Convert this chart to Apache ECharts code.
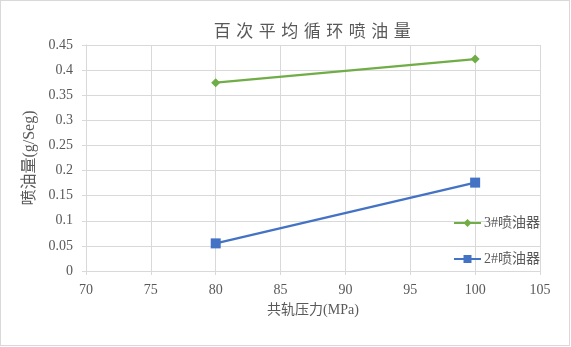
<!DOCTYPE html>
<html>
<head>
<meta charset="utf-8">
<script src="https://cdn.jsdelivr.net/npm/echarts@6/dist/echarts.min.js"></script>
<style>
html,body{margin:0;padding:0;background:#fff;}
#c{position:absolute;left:0;top:0;width:568px;height:344px;border:1px solid #d9d9d9;}
</style>
</head>
<body>
<div id="c"></div>
<script>
const titleText = '百次平均循环喷油量';
const xName = '共轨压力(MPa)';
const yName = '喷油量(g/Seg)';
const seriesNames = ['3#喷油器', '2#喷油器'];
const pressure = [80, 100];
const injector3 = [0.375, 0.422];
const injector2 = [0.055, 0.176];

const FONT = "'Liberation Serif', 'Noto Sans CJK SC', serif";
const chart = echarts.init(document.getElementById('c'));
chart.setOption({
  animation: false,
  title: {
    text: Array.from(titleText).map(ch => '{c|' + ch + '}').join(''),
    left: 205, top: 16,
    textStyle: {
      fontFamily: "'Noto Sans CJK SC', sans-serif", fontSize: 17, fontWeight: 'normal', color: '#595959',
      rich: {c: {width: 22.5, align: 'center', fontFamily: "'Noto Sans CJK SC', sans-serif", fontSize: 17, color: '#595959'}}
    }
  },
  grid: {left: 85, right: 29, top: 44, bottom: 74},
  legend: {
    orient: 'vertical', left: 447, top: 210,
    itemWidth: 27, itemHeight: 10, itemGap: 22,
    textStyle: {fontFamily: FONT, fontSize: 14, color: '#595959', padding: [0,0,0,-2]},
    data: seriesNames
  },
  xAxis: {
    type: 'value', min: 70, max: 105, interval: 5,
    name: xName, nameLocation: 'middle', nameGap: 32,
    nameTextStyle: {fontFamily: FONT, fontSize: 14, color: '#595959'},
    axisLine: {show: true, lineStyle: {color: '#d9d9d9', width: 1}},
    axisTick: {show: true, length: 4, lineStyle: {color: '#d9d9d9'}},
    axisLabel: {fontFamily: FONT, fontSize: 14, color: '#595959', margin: 12},
    splitLine: {show: true, lineStyle: {color: '#d9d9d9', width: 1}}
  },
  yAxis: {
    type: 'value', min: 0, max: 0.45, interval: 0.05,
    name: yName, nameLocation: 'middle', nameGap: 42, nameRotate: 90,
    nameTextStyle: {fontFamily: FONT, fontSize: 16, color: '#595959'},
    axisLine: {show: true, lineStyle: {color: '#d9d9d9', width: 1}},
    axisTick: {show: true, length: 4, lineStyle: {color: '#d9d9d9'}},
    axisLabel: {fontFamily: FONT, fontSize: 14, color: '#595959', margin: 13},
    splitLine: {show: true, lineStyle: {color: '#d9d9d9', width: 1}}
  },
  series: [
    {
      name: seriesNames[0], type: 'line',
      data: pressure.map((p, i) => [p, injector3[i]]),
      symbol: 'diamond', symbolSize: 9,
      lineStyle: {color: '#70ad47', width: 2.25},
      itemStyle: {color: '#70ad47'}
    },
    {
      name: seriesNames[1], type: 'line',
      data: pressure.map((p, i) => [p, injector2[i]]),
      symbol: 'rect', symbolSize: 10,
      lineStyle: {color: '#4472c4', width: 2.25},
      itemStyle: {color: '#4472c4'}
    }
  ]
});
</script>
</body>
</html>
